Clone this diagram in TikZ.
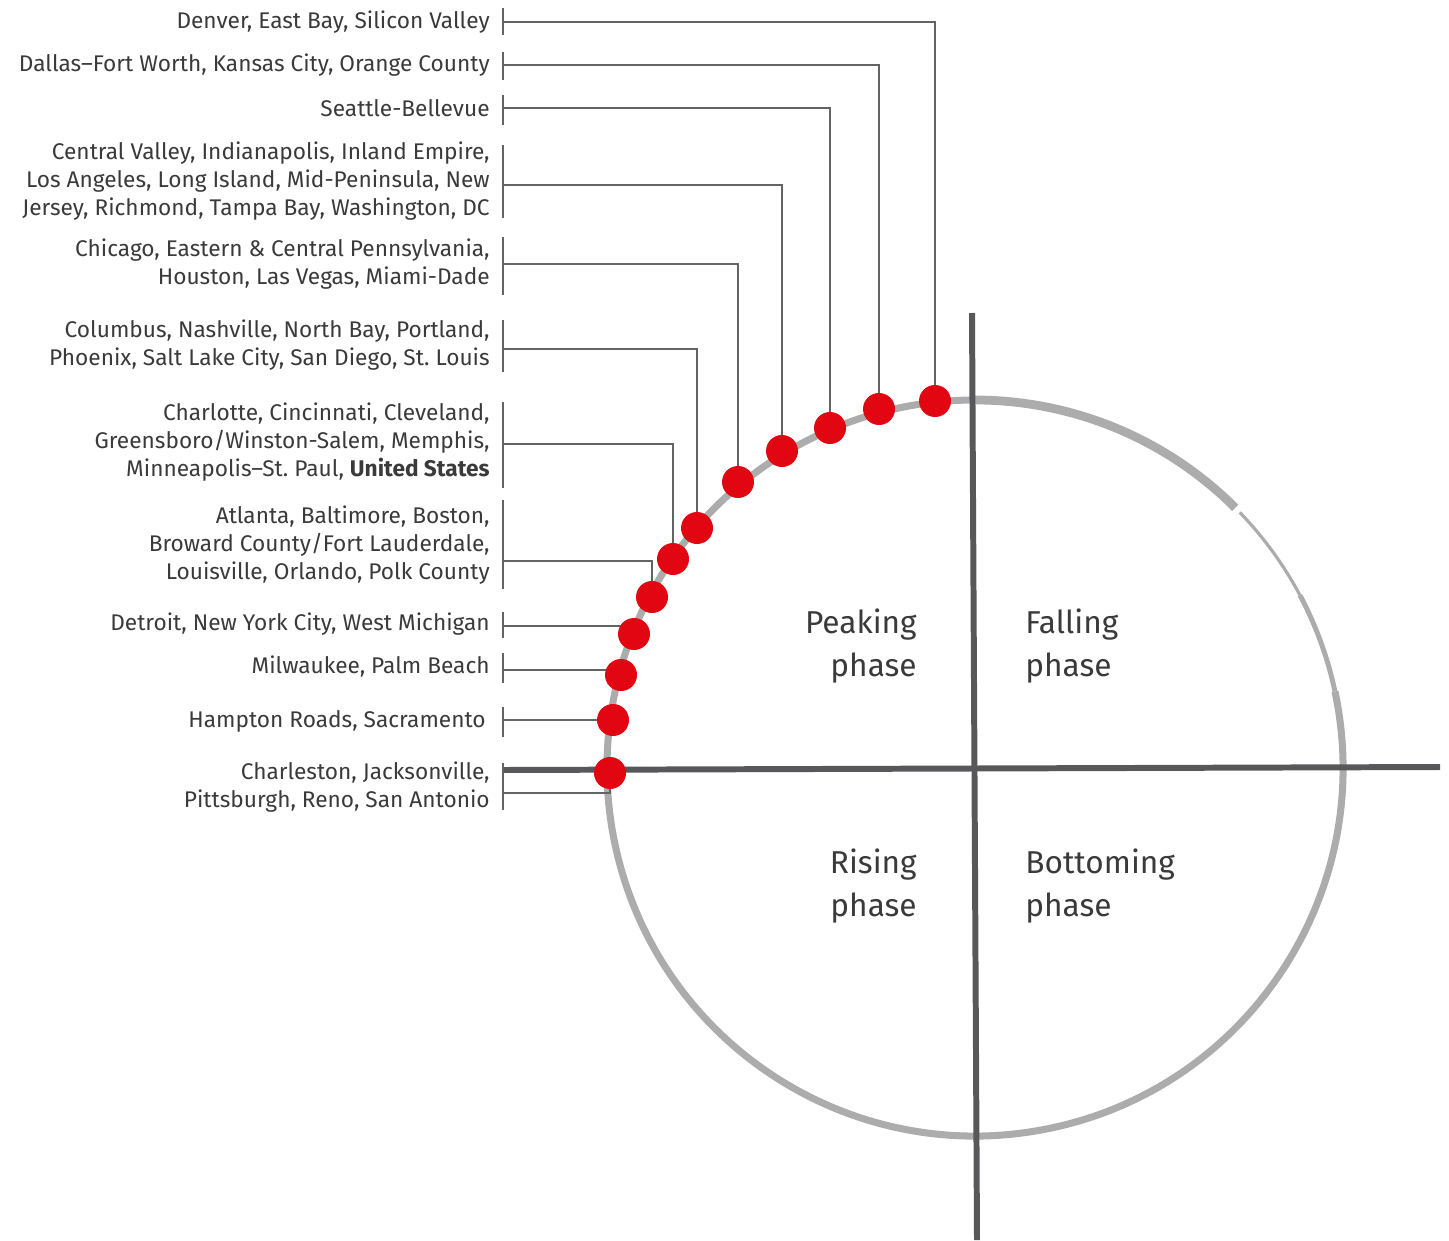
\documentclass[tikz,border=0pt]{standalone}
\usepackage{fontspec}
\setmainfont{Fira Sans}
\usetikzlibrary{positioning}
\definecolor{dotred}{RGB}{226,6,19}
\definecolor{textgray}{RGB}{58,58,58}
\definecolor{leadgray}{RGB}{100,100,100}
\definecolor{axisgray}{RGB}{88,88,90}
\definecolor{ringgray}{RGB}{172,172,172}

\begin{document}
\begin{tikzpicture}[x=0.02cm, y=-0.02cm,
    metro/.style={anchor=east, align=right, inner sep=0pt, text=textgray,
      font=\fontsize{12.9}{15.9}\selectfont},
    phase/.style={inner sep=0pt, text=textgray, font=\fontsize{18}{24.4}\selectfont},
    leader/.style={leadgray, line width=0.8pt},
    bracket/.style={leadgray, line width=0.9pt},
    axis/.style={axisgray, line width=3.4pt},
    ring/.style={ringgray}]
  \useasboundingbox (0,0) rectangle (1449,1240);

  % Cycle ring
  \draw[ring, line width=5pt] (975,768) ++(-90:368) arc[start angle=-90, end angle=-45, radius=368];
  \draw[ring, line width=1.8pt] (975,768) ++(-44:368) arc[start angle=-44, end angle=-28, radius=368];
  \draw[ring, line width=2.8pt] (975,768) ++(-28:368) arc[start angle=-28, end angle=-12, radius=368];
  \draw[ring, line width=4pt] (975,768) ++(-12:368) arc[start angle=-12, end angle=270, radius=368];

  % Axes
  \draw[axis] (503,770) -- (1440,767);
  \draw[axis] (972,313) -- (977,1240);

  % Points on the ring
  \coordinate (d1) at (935,401);
  \coordinate (d2) at (879,409);
  \coordinate (d3) at (830,428);
  \coordinate (d4) at (782,451);
  \coordinate (d5) at (738,482);
  \coordinate (d6) at (697,528);
  \coordinate (d7) at (673,559);
  \coordinate (d8) at (652,597);
  \coordinate (d9) at (634,634);
  \coordinate (d10) at (621,675);
  \coordinate (d11) at (613,720);
  \coordinate (d12) at (610,773);

  % Leader starts
  \coordinate (b1) at (503,22);
  \coordinate (b2) at (503,65);
  \coordinate (b3) at (503,108);
  \coordinate (b4) at (503,185);
  \coordinate (b5) at (503,264);
  \coordinate (b6) at (503,349);
  \coordinate (b7) at (503,444);
  \coordinate (b8) at (503,561);
  \coordinate (b9) at (503,626);
  \coordinate (b10) at (503,670);
  \coordinate (b11) at (503,720);
  \coordinate (b12) at (503,793);

  % Leaders
  \draw[leader] (b1) -| (d1);
  \draw[leader] (b2) -| (d2);
  \draw[leader] (b3) -| (d3);
  \draw[leader] (b4) -| (d4);
  \draw[leader] (b5) -| (d5);
  \draw[leader] (b6) -| (d6);
  \draw[leader] (b7) -| (d7);
  \draw[leader] (b8) -| (d8);
  \draw[leader] (b9) -| (d9);
  \draw[leader] (b10) -| (d10);
  \draw[leader] (b11) -| (d11);
  \draw[leader] (b12) -| (d12);

  % Brackets
  \draw[bracket] (503,8) -- (503,35);
  \draw[bracket] (503,52) -- (503,80);
  \draw[bracket] (503,95) -- (503,125);
  \draw[bracket] (503,145) -- (503,218);
  \draw[bracket] (503,237) -- (503,295);
  \draw[bracket] (503,320) -- (503,372);
  \draw[bracket] (503,402) -- (503,488);
  \draw[bracket] (503,500) -- (503,589);
  \draw[bracket] (503,612) -- (503,638);
  \draw[bracket] (503,653) -- (503,683);
  \draw[bracket] (503,707) -- (503,737);
  \draw[bracket] (503,763) -- (503,810);

  % Dots
  \fill[dotred] (d1) circle (16);
  \fill[dotred] (d2) circle (16);
  \fill[dotred] (d3) circle (16);
  \fill[dotred] (d4) circle (16);
  \fill[dotred] (d5) circle (16);
  \fill[dotred] (d6) circle (16);
  \fill[dotred] (d7) circle (16);
  \fill[dotred] (d8) circle (16);
  \fill[dotred] (d9) circle (16);
  \fill[dotred] (d10) circle (16);
  \fill[dotred] (d11) circle (16);
  \fill[dotred] (d12) circle (16);

  % Metro labels
  \node[metro] (m1) at (490,22) {Denver, East Bay, Silicon Valley};
  \node[metro] (m2) at (490,65) {Dallas–Fort Worth, Kansas City, Orange County};
  \node[metro] (m3) at (490,108) {Seattle-Bellevue};
  \node[metro] (m4) at (490,181) {Central Valley, Indianapolis, Inland Empire,\\Los Angeles, Long Island, Mid-Peninsula, New\\Jersey, Richmond, Tampa Bay, Washington, DC};
  \node[metro] (m5) at (490,264) {Chicago, Eastern \& Central Pennsylvania,\\Houston, Las Vegas, Miami-Dade};
  \node[metro] (m6) at (490,345) {Columbus, Nashville, North Bay, Portland,\\Phoenix, Salt Lake City, San Diego, St.\ Louis};
  \node[metro] (m7) at (490,442) {Charlotte, Cincinnati, Cleveland,\\Greensboro/Winston-Salem, Memphis,\\Minneapolis–St.\ Paul, \textbf{United States}};
  \node[metro] (m8) at (490,545) {Atlanta, Baltimore, Boston,\\Broward County/Fort Lauderdale,\\Louisville, Orlando, Polk County};
  \node[metro] (m9) at (490,624) {Detroit, New York City, West Michigan};
  \node[metro] (m10) at (490,667) {Milwaukee, Palm Beach};
  \node[metro] (m11) at (486,721) {Hampton Roads, Sacramento};
  \node[metro] (m12) at (490,787) {Charleston, Jacksonville,\\Pittsburgh, Reno, San Antonio};

  % Phases
  \node[phase, anchor=east, align=right] (peak) at (917,646) {Peaking\\phase};
  \node[phase, anchor=west, align=left] (fall) at (1025,646) {Falling\\phase};
  \node[phase, anchor=east, align=right] (rise) at (917,886) {Rising\\phase};
  \node[phase, anchor=west, align=left] (bottom) at (1025,886) {Bottoming\\phase};
\end{tikzpicture}
\end{document}
